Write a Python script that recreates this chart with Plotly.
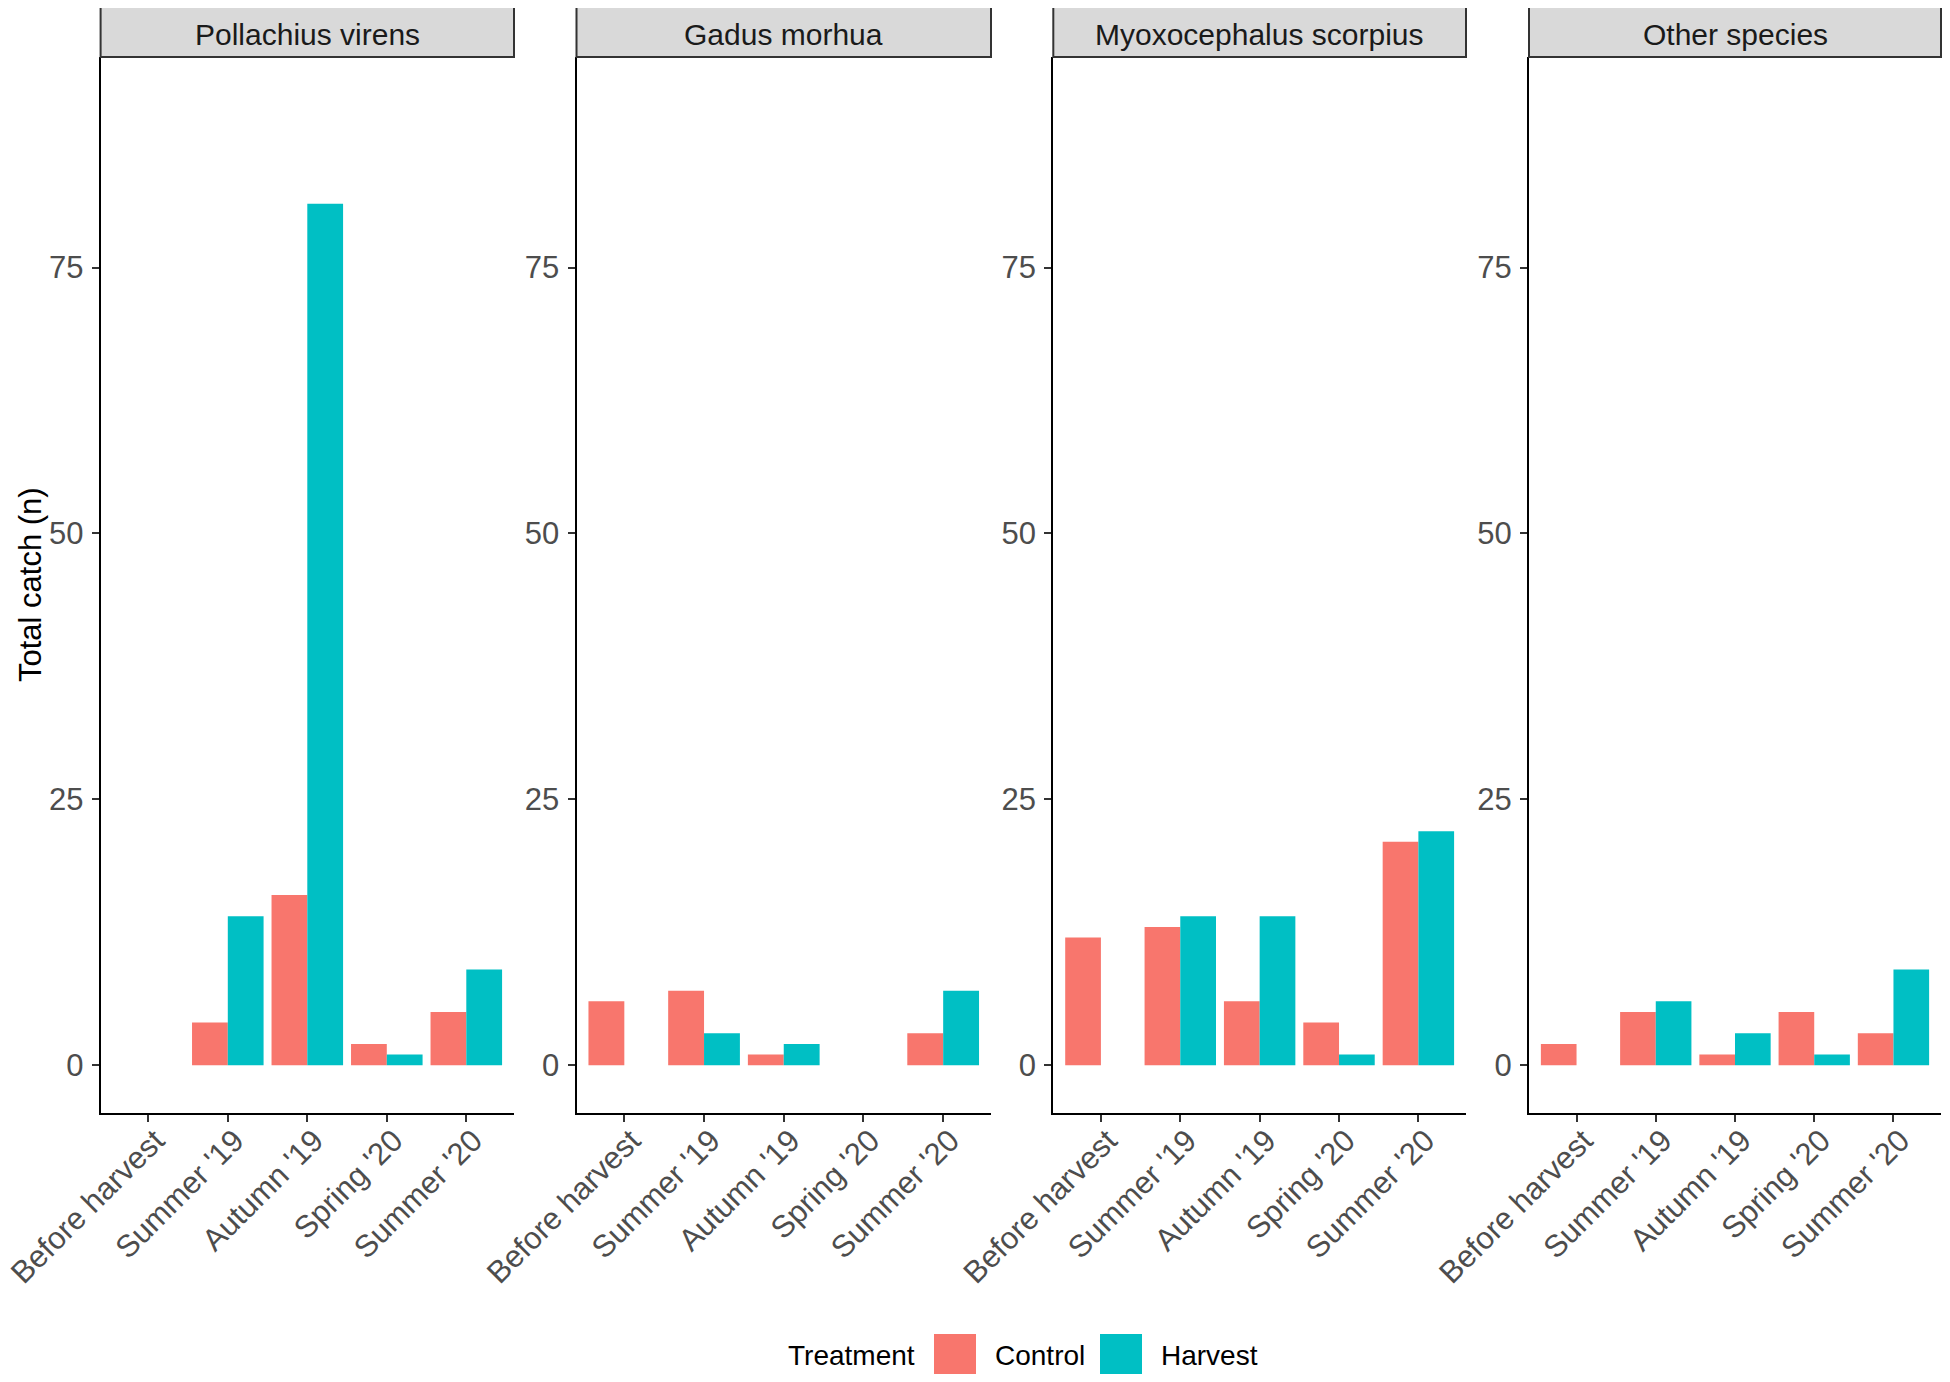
import plotly.graph_objects as go

# ---------------- data ----------------
periods = ["Before harvest", "Summer '19", "Autumn '19", "Spring '20", "Summer '20"]
species = ["Pollachius virens", "Gadus morhua", "Myoxocephalus scorpius", "Other species"]

pollachius_control = [0, 4, 16, 2, 5]
pollachius_harvest = [0, 14, 81, 1, 9]
gadus_control = [6, 7, 1, 0, 3]
gadus_harvest = [0, 3, 2, 0, 7]
myoxo_control = [12, 13, 6, 4, 21]
myoxo_harvest = [0, 14, 14, 1, 22]
other_control = [2, 5, 1, 5, 3]
other_harvest = [0, 6, 3, 1, 9]

treatments = ["Control", "Harvest"]
colors = ["#F8766D", "#00BFC4"]
y_ticks = [0, 25, 50, 75]

control_series = [pollachius_control, gadus_control, myoxo_control, other_control]
harvest_series = [pollachius_harvest, gadus_harvest, myoxo_harvest, other_harvest]

# ---------------- layout geometry ----------------
# page body has an 8px margin, so the figure is drawn 8px in from the window corner
OFF = 8
W, H = 1950 - 2 * OFF, 1382 - 2 * OFF
panel_px = [(100.6, 514.0), (576.5, 991.0), (1053.3, 1466.0), (1529.0, 1941.0)]
panel_top_px, panel_bot_px = 57.0, 1113.0
strip_top_px = 7.0

def px_x(v):
    return (v - OFF) / W

def px_y(v):
    return 1 - (v - OFF) / H

FONT = "Liberation Sans, Arial, sans-serif"

fig = go.Figure()
shapes = []
annotations = []

for i, sp in enumerate(species):
    n = i + 1
    xref = "x" if n == 1 else f"x{n}"
    yref = "y" if n == 1 else f"y{n}"
    for t, vals, col in zip(treatments, [control_series[i], harvest_series[i]], colors):
        fig.add_trace(go.Bar(
            x=periods, y=vals, name=t, marker=dict(color=col, line=dict(width=0)),
            xaxis=xref, yaxis=yref, showlegend=False, offsetgroup=t,
        ))
    x0, x1 = panel_px[i]
    dom = [px_x(x0), px_x(x1)]
    xa = dict(
        domain=dom, anchor=yref, type="category", categoryorder="array",
        categoryarray=periods, range=[-0.6, 4.6], automargin=False,
        showline=True, linecolor="black", linewidth=2,
        ticks="outside", ticklen=7, tickwidth=2, tickcolor="#333333",
        tickangle=-45, tickfont=dict(family=FONT, size=31, color="#4D4D4D"),
        ticklabelstandoff=-12, ticklabelshift=7,
        showgrid=False, zeroline=False, fixedrange=True,
    )
    ya = dict(
        domain=[px_y(panel_bot_px), px_y(panel_top_px)], anchor=xref,
        range=[-4.5, 94.8], tickmode="array", tickvals=y_ticks, automargin=False,
        showline=True, linecolor="black", linewidth=2,
        ticks="outside", ticklen=7, tickwidth=2, tickcolor="#333333",
        tickfont=dict(family=FONT, size=31, color="#4D4D4D"),
        ticklabelstandoff=2,
        showgrid=False, zeroline=False, fixedrange=True,
    )
    fig.update_layout(**{("xaxis" if n == 1 else f"xaxis{n}"): xa,
                         ("yaxis" if n == 1 else f"yaxis{n}"): ya})
    # strip
    shapes.append(dict(type="rect", xref="paper", yref="paper",
                       x0=dom[0], x1=dom[1], y0=px_y(panel_top_px), y1=px_y(strip_top_px),
                       fillcolor="#D9D9D9", line=dict(color="#333333", width=2), layer="above"))
    annotations.append(dict(text=sp, xref="paper", yref="paper",
                            x=(dom[0] + dom[1]) / 2, y=px_y((panel_top_px + strip_top_px) / 2 + 3),
                            xanchor="center", yanchor="middle", showarrow=False,
                            font=dict(family=FONT, size=30, color="#1A1A1A")))

# y-axis title
annotations.append(dict(text="Total catch (n)", xref="paper", yref="paper",
                        x=px_x(30), y=px_y((panel_top_px + panel_bot_px) / 2),
                        xanchor="center", yanchor="middle", textangle=-90, showarrow=False,
                        font=dict(family=FONT, size=31, color="black")))

# legend (drawn manually to match key size)
leg_cy = 1355
key = 42
annotations.append(dict(text="Treatment", xref="paper", yref="paper", x=px_x(786), y=px_y(leg_cy),
                        xanchor="left", yanchor="middle", showarrow=False,
                        font=dict(family=FONT, size=28, color="black")))
key_x = [934, 1100]
txt_x = [993, 1159]
for t, col, kx, tx in zip(treatments, colors, key_x, txt_x):
    shapes.append(dict(type="rect", xref="paper", yref="paper",
                       x0=px_x(kx), x1=px_x(kx + key), y0=px_y(leg_cy + key / 2), y1=px_y(leg_cy - key / 2),
                       fillcolor=col, line=dict(width=0)))
    annotations.append(dict(text=t, xref="paper", yref="paper", x=px_x(tx), y=px_y(leg_cy),
                            xanchor="left", yanchor="middle", showarrow=False,
                            font=dict(family=FONT, size=28, color="black")))

fig.update_layout(
    width=W, height=H, margin=dict(l=0, r=0, t=0, b=0, autoexpand=False),
    paper_bgcolor="white", plot_bgcolor="white",
    barmode="group", bargap=0.1, bargroupgap=0,
    shapes=shapes, annotations=annotations, showlegend=False,
    font=dict(family=FONT),
)

fig.write_html("out.html")
